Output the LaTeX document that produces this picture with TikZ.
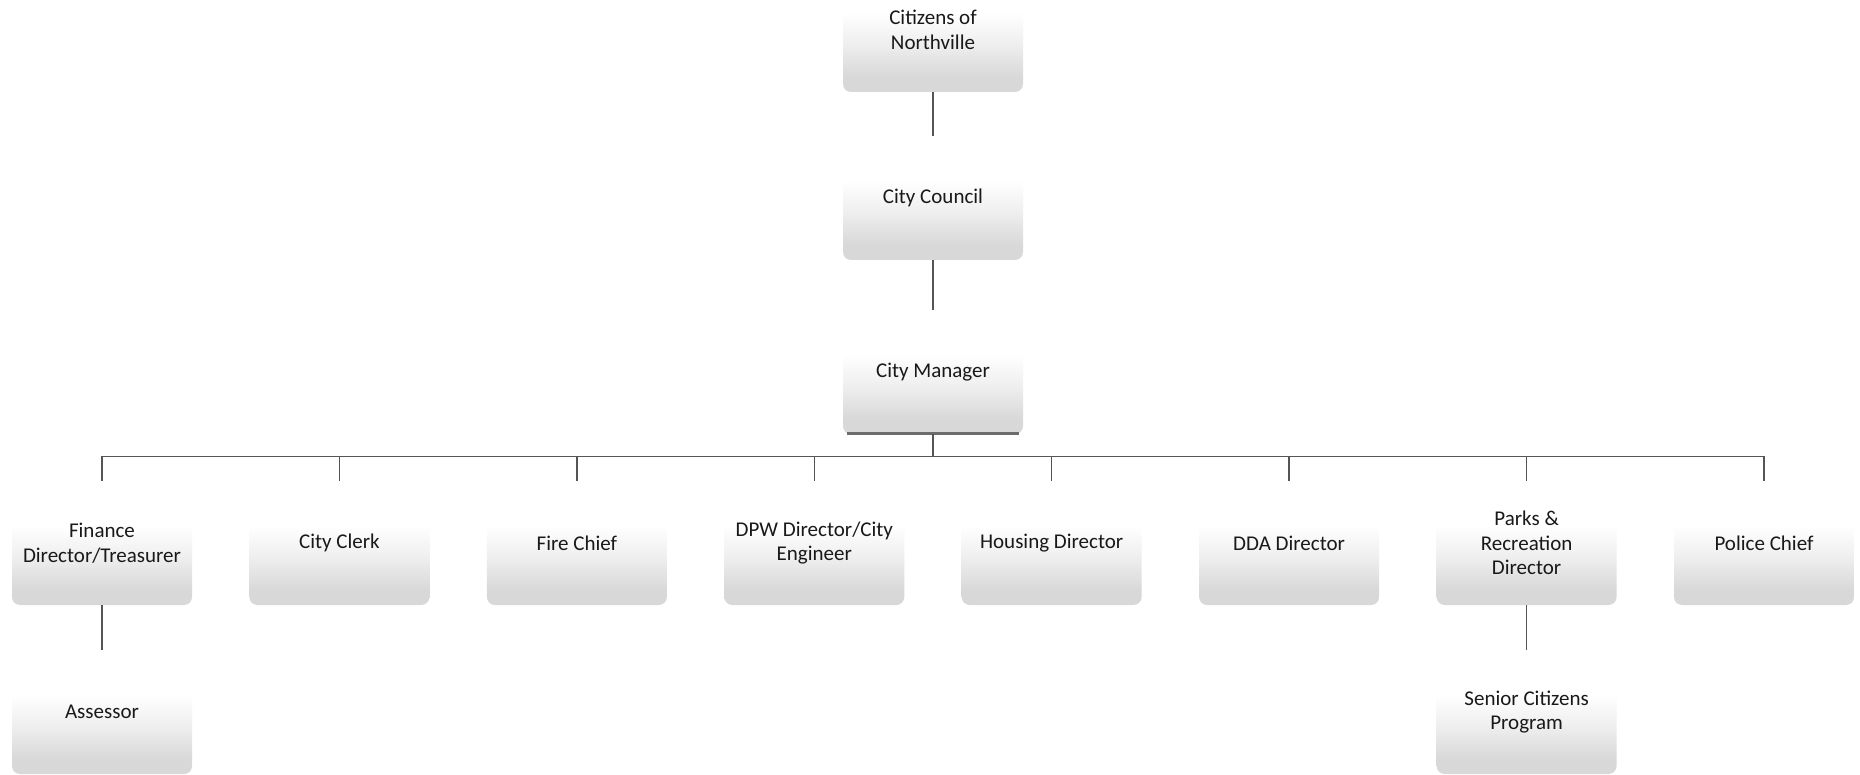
\documentclass[tikz,border=0pt]{standalone}
\usepackage{fontspec}
\setmainfont{Carlito}
\definecolor{boxgray}{RGB}{216,216,216}
\definecolor{boxmid}{RGB}{238,238,238}
\definecolor{linegray}{RGB}{85,85,85}
\definecolor{txt}{RGB}{25,25,25}
\pgfdeclareverticalshading{boxshade}{100bp}{color(0bp)=(boxgray); color(31bp)=(boxgray); color(44bp)=(boxmid); color(57bp)=(white); color(100bp)=(white)}
\begin{document}
\begin{tikzpicture}[x=0.5pt,y=-0.5pt,
  orgbox/.style={rectangle, rounded corners=4pt, shading=boxshade, draw=none,
    minimum width=90pt, minimum height=62pt, align=center, inner sep=2pt,
    font=\fontsize{10.5}{12.3}\selectfont, text=txt},
  conn/.style={draw=linegray, line width=0.75pt}]
\clip (0,0) rectangle (1860,775);
\fill[white] (0,0) rectangle (1860,775);
\useasboundingbox (0,0) rectangle (1860,775);

\node[orgbox] (cit) at (933,30) {Citizens of\\Northville};
\node[orgbox] (cc) at (933,198) {City Council};
\node[orgbox] (cm) at (933,372) {City Manager};
\draw[line width=1.6pt, gray!85!black] ([xshift=2pt,yshift=0.6pt]cm.south west) -- ([xshift=-2pt,yshift=0.6pt]cm.south east);

\node[orgbox] (fin) at (102,543) {Finance\\Director/Treasurer};
\node[orgbox] (clerk) at (339.4,543) {City Clerk};
\node[orgbox] (fire) at (576.9,543) {Fire Chief};
\node[orgbox] (dpw) at (814.3,543) {DPW Director/City\\Engineer};
\node[orgbox] (hous) at (1051.7,543) {Housing Director};
\node[orgbox] (dda) at (1289.1,543) {DDA Director};
\node[orgbox] (parks) at (1526.6,543) {Parks \&\\Recreation\\Director};
\node[orgbox] (pol) at (1764,543) {Police Chief};

\node[orgbox] (ass) at (102,712) {Assessor};
\node[orgbox] (sen) at (1526.6,712) {Senior Citizens\\Program};

\draw[conn] (cit.south) -- (cc.north);
\draw[conn] (cc.south) -- (cm.north);
\draw[conn] (cm.south) -- ++(0,22) coordinate (j);
\draw[conn] (fin.north) |- (j) -| (pol.north);
\foreach \n in {clerk,fire,dpw,hous,dda,parks}
  \draw[conn] (\n.north) -- (\n.north |- j);
\draw[conn] (fin.south) -- (ass.north);
\draw[conn] (parks.south) -- (sen.north);
\end{tikzpicture}
\end{document}
